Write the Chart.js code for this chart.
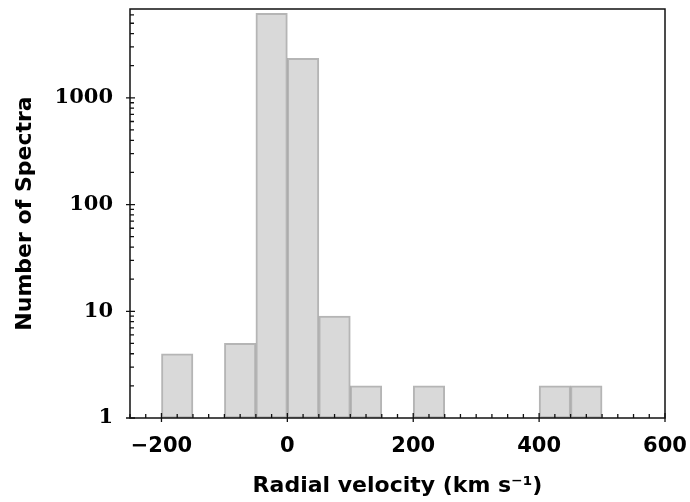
<!DOCTYPE html>
<html>
<head>
<meta charset="utf-8">
<script src="https://cdn.jsdelivr.net/npm/chart.js@4.4.1/dist/chart.umd.min.js"></script>
<style>
  html, body { margin: 0; padding: 0; background: #fff; }
  #wrap { width: 690px; height: 502px; }
</style>
</head>
<body>
<div id="wrap"><canvas id="canvas-hist"></canvas></div>
<script>
// histogram of radial velocities, bins of 50 km/s
const binWidth = 50;
const binStarts = [-200, -100, -50, 0, 50, 100, 200, 400, 450];
const counts = [4, 5, 6200, 2350, 9, 2, 2, 2, 2];

const xTicks = [-200, 0, 200, 400, 600];
const yTicks = [1, 10, 100, 1000];
const xMin = -250;
const xMax = 600;
const yMin = 1;
const yMax = 6800;

const sansFont = "'DejaVu Sans', 'Liberation Sans', sans-serif";
const serifFont = "'DejaVu Serif', 'Liberation Serif', serif";

const histData = binStarts.map((s, i) => ({ x: s + binWidth / 2, y: counts[i] }));

// matplotlib style frame + in/out ticks
const framePlugin = {
  id: "frame",
  afterDraw(chart) {
    const ctx = chart.ctx;
    const area = chart.chartArea;
    const xs = chart.scales.x;
    const ys = chart.scales.y;
    ctx.save();
    ctx.strokeStyle = "#111";
    ctx.lineWidth = 1.5;
    ctx.strokeRect(area.left, area.top, area.right - area.left, area.bottom - area.top);

    ctx.lineWidth = 1.3;
    ctx.beginPath();
    for (let v = xMin; v <= xMax; v += 25) {
      const px = xs.getPixelForValue(v);
      if (xTicks.includes(v)) {
        ctx.moveTo(px, area.bottom - 5);
        ctx.lineTo(px, area.bottom + 4);
      } else {
        ctx.moveTo(px, area.bottom - 4);
        ctx.lineTo(px, area.bottom);
      }
    }
    for (let d = 1; d <= 1000; d *= 10) {
      for (let m = 1; m <= 9; m++) {
        const v = d * m;
        if (v > yMax) break;
        const py = ys.getPixelForValue(v);
        if (m === 1) {
          ctx.moveTo(area.left - 4, py);
          ctx.lineTo(area.left + 5, py);
        } else {
          ctx.moveTo(area.left, py);
          ctx.lineTo(area.left + 4, py);
        }
      }
    }
    ctx.stroke();
    ctx.restore();
  },
};

const ctx = document.getElementById("canvas-hist").getContext("2d");

new Chart(ctx, {
  type: "bar",
  data: {
    datasets: [
      {
        data: histData,
        backgroundColor: "#d9d9d9",
        borderColor: "rgba(150, 150, 150, 0.7)",
        borderWidth: 2,
        borderSkipped: false,
        barPercentage: 1,
        categoryPercentage: 1,
      },
    ],
  },
  options: {
    responsive: true,
    maintainAspectRatio: false,
    animation: false,
    layout: { padding: { top: 9, right: 25, left: 0, bottom: 0 } },
    plugins: {
      legend: { display: false },
      tooltip: { enabled: false },
    },
    scales: {
      x: {
        type: "linear",
        min: xMin,
        max: xMax,
        offset: false,
        grid: { display: false, drawTicks: false },
        border: { display: false },
        afterBuildTicks: (scale) => {
          scale.ticks = xTicks.map((v) => ({ value: v }));
        },
        afterFit: (scale) => {
          scale.height = 84;
          scale.paddingLeft = 0;
          scale.paddingRight = 0;
        },
        ticks: {
          color: "#000",
          padding: 16,
          maxRotation: 0,
          font: { family: sansFont, size: 21, weight: "bold" },
          callback: (v) => (v < 0 ? "\u2212" + Math.abs(v) : String(v)),
        },
        title: {
          display: true,
          text: "Radial velocity (km s\u207B\u00B9)",
          color: "#000",
          padding: { top: 0, bottom: 3 },
          font: { family: sansFont, size: 22, weight: "bold" },
        },
      },
      y: {
        type: "logarithmic",
        min: yMin,
        max: yMax,
        grid: { display: false, drawTicks: false },
        border: { display: false },
        afterBuildTicks: (scale) => {
          scale.ticks = yTicks.map((v) => ({ value: v }));
        },
        afterFit: (scale) => {
          scale.width = 130;
          scale.paddingTop = 0;
          scale.paddingBottom = 0;
        },
        ticks: {
          color: "#000",
          padding: 17,
          font: { family: serifFont, size: 21, weight: "bold" },
          callback: (v) => String(v),
        },
        title: {
          display: true,
          text: "Number of Spectra",
          color: "#000",
          padding: { top: 12, bottom: 0 },
          font: { family: sansFont, size: 22, weight: "bold" },
        },
      },
    },
  },
  plugins: [framePlugin],
});
</script>
</body>
</html>
